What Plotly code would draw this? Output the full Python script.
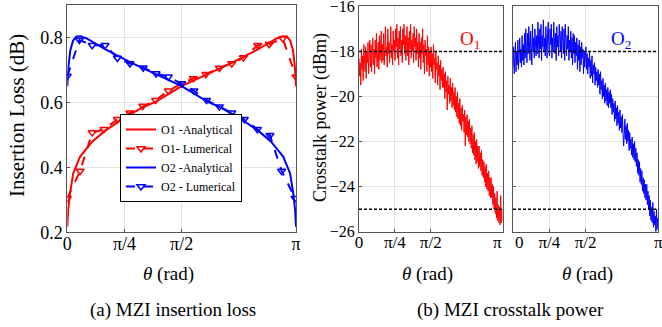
import numpy as np
import plotly.graph_objects as go

PI = np.pi
W, H = 662, 327

# ---------------- data: (a) insertion loss ----------------
ana_f = [0, 0.004, 0.012, 0.026, 0.056, 0.109, 0.16, 0.25, 0.33, 0.386, 0.5,
         0.606, 0.719, 0.833, 0.915, 0.942, 0.96, 0.975, 0.987, 0.995, 1.0]
o1_ana = [0.217, 0.27, 0.32, 0.382, 0.433, 0.479, 0.51, 0.553, 0.585, 0.602, 0.65,
          0.684, 0.722, 0.763, 0.797, 0.804, 0.803, 0.79, 0.76, 0.71, 0.65]
o2_ana_f = [0, 0.005, 0.013, 0.025, 0.04, 0.058, 0.085, 0.167, 0.281, 0.394, 0.5,
            0.614, 0.67, 0.75, 0.84, 0.891, 0.944, 0.974, 0.988, 0.996, 1.0]
o2_ana = [0.65, 0.71, 0.76, 0.79, 0.803, 0.804, 0.797, 0.763, 0.722, 0.684, 0.65,
          0.602, 0.585, 0.553, 0.51, 0.479, 0.433, 0.382, 0.32, 0.27, 0.217]

o1_lum_f = [0, 0.056, 0.109, 0.16, 0.219, 0.274, 0.33, 0.386, 0.442, 0.5, 0.551,
            0.606, 0.665, 0.719, 0.77, 0.833, 0.883, 0.942, 1.0]
o1_lum = [0.305, 0.389, 0.507, 0.517, 0.548, 0.568, 0.589, 0.607, 0.636, 0.658, 0.674,
          0.687, 0.706, 0.72, 0.738, 0.776, 0.779, 0.797, 0.679]
o2_lum_f = [0, 0.053, 0.109, 0.165, 0.219, 0.274, 0.332, 0.388, 0.442, 0.5, 0.554,
            0.609, 0.665, 0.719, 0.774, 0.831, 0.886, 0.937, 0.996]
o2_lum = [0.681, 0.792, 0.776, 0.776, 0.737, 0.72, 0.707, 0.689, 0.679, 0.658, 0.636,
          0.607, 0.587, 0.568, 0.548, 0.517, 0.499, 0.389, 0.305]

# ---------------- data: (b) crosstalk power (dBm) ----------------
o1_xt = [
    -18.3, -19.1, -18.5, -19.5, -17.9, -18.8, -18.2, -19.3, -17.7, -18.6, -18.9, -17.8, -19.2, -18.0, -18.5, -17.6, -19.0, -18.1, -17.5, -18.7,
    -17.7, -18.9, -18.0, -17.4, -18.6, -17.9, -19.0, -17.5, -18.3, -17.2, -18.7, -18.0, -17.6, -18.8, -17.3, -18.4, -17.9, -17.1, -18.5, -17.7,
    -18.4, -17.2, -18.6, -17.5, -16.9, -18.2, -17.8, -18.7, -17.0, -18.1, -17.6, -18.5, -17.3, -16.9, -18.3, -17.7, -18.6, -17.1, -18.0, -17.5,
    -18.4, -17.0, -17.8, -16.8, -18.3, -17.4, -18.6, -17.1, -17.9, -16.9, -18.2, -17.5, -18.5, -17.0, -17.7, -16.8, -18.1, -17.3, -18.4, -17.6,
    -16.9, -18.2, -17.4, -18.6, -17.1, -17.9, -16.8, -18.3, -17.5, -18.0, -17.2, -18.5, -16.9, -17.8, -17.4, -18.4, -17.0, -18.1, -17.6, -18.7,
    -17.2, -18.3, -17.6, -18.8, -17.4, -18.1, -17.0, -18.5, -17.7, -19.0, -17.5, -18.2, -17.9, -18.9, -17.3, -18.6, -17.8, -19.1, -18.0, -18.7,
    -17.8, -18.9, -18.1, -19.2, -17.7, -18.6, -18.3, -19.4, -18.0, -18.8, -18.5, -19.5, -18.2, -19.1, -18.6, -19.7, -18.4, -19.3, -18.8, -19.6,
    -18.7, -19.6, -19.0, -20.1, -18.9, -19.8, -19.3, -20.6, -19.1, -19.9, -19.5, -20.3, -19.2, -20.2, -19.6, -20.5, -19.4, -20.4, -19.8, -20.6,
    -19.6, -20.7, -20.0, -20.9, -19.8, -21.0, -20.3, -21.2, -20.1, -21.3, -20.5, -21.5, -20.4, -21.1, -20.8, -21.6, -20.6, -22.2, -20.9, -21.7,
    -20.8, -21.8, -21.1, -22.0, -21.0, -22.1, -21.4, -22.3, -21.3, -22.5, -21.7, -22.6, -21.6, -22.8, -22.0, -23.0, -21.9, -22.9, -22.2, -23.2,
    -22.2, -23.1, -22.5, -23.3, -22.4, -23.5, -22.8, -23.6, -22.9, -23.8, -23.1, -24.0, -23.0, -24.1, -23.4, -24.2, -23.3, -24.4, -23.6, -24.5,
    -23.6, -24.5, -23.9, -24.8, -24.0, -25.0, -24.3, -25.2, -24.5, -25.4, -24.2, -25.5, -24.8, -25.6, -24.9, -25.7, -24.4, -25.6, -25.0, -25.5,
]
o2_xt = [
    -18.7, -17.8, -19.0, -18.2, -17.6, -18.9, -18.0, -18.6, -17.5, -18.8, -18.1, -17.4, -18.5, -17.9, -18.7, -17.3, -18.4, -17.7, -18.6, -17.2,
    -18.3, -17.0, -17.9, -18.5, -17.2, -18.1, -16.9, -17.8, -18.4, -17.1, -17.7, -18.6, -16.8, -18.0, -17.4, -18.3, -17.0, -17.9, -18.2, -17.3,
    -18.1, -16.7, -17.6, -18.3, -17.0, -17.9, -16.8, -18.4, -17.3, -17.8, -16.6, -18.0, -17.4, -18.2, -16.9, -17.7, -18.3, -17.1, -16.7, -17.9,
    -18.2, -17.0, -17.7, -16.8, -18.3, -17.4, -18.0, -16.7, -17.6, -18.1, -17.2, -18.4, -16.9, -17.8, -17.3, -18.2, -16.8, -17.5, -18.0, -17.1,
    -18.3, -16.9, -17.7, -18.1, -17.0, -18.4, -16.8, -17.6, -18.2, -17.3, -17.9, -16.9, -18.4, -17.5, -18.0, -17.1, -18.3, -17.4, -18.6, -17.2,
    -18.1, -17.3, -18.5, -17.6, -18.2, -17.4, -18.8, -17.7, -18.4, -17.5, -18.9, -17.8, -18.6, -17.6, -18.3, -17.9, -19.0, -18.0, -18.7, -18.2,
    -17.8, -18.8, -18.1, -19.0, -18.3, -18.7, -18.0, -19.2, -18.4, -19.1, -18.2, -19.4, -18.6, -19.0, -18.5, -19.5, -18.7, -19.3, -18.9, -19.6,
    -18.8, -19.5, -19.0, -19.9, -18.9, -19.7, -19.3, -20.1, -19.2, -20.0, -19.5, -20.3, -19.4, -20.2, -19.7, -20.4, -19.6, -20.5, -19.8, -20.3,
    -19.7, -20.5, -19.9, -20.8, -20.1, -20.7, -20.3, -21.1, -20.2, -21.0, -20.5, -21.3, -20.4, -21.2, -20.7, -21.5, -20.6, -21.4, -20.9, -21.6,
    -20.8, -21.6, -22.2, -21.7, -21.0, -21.9, -21.3, -22.1, -21.2, -22.0, -21.5, -22.4, -21.6, -22.3, -21.9, -22.6, -21.8, -22.7, -22.1, -22.8,
    -22.0, -22.9, -22.3, -23.1, -22.5, -23.4, -22.8, -23.5, -22.9, -23.8, -23.2, -23.9, -23.3, -24.2, -23.6, -24.3, -23.7, -24.5, -23.9, -24.6,
    -23.9, -24.8, -24.2, -25.0, -24.4, -25.3, -24.6, -25.5, -24.9, -25.6, -24.7, -25.8, -25.1, -25.7, -25.3, -26.0, -25.0, -25.9, -25.4, -25.8,
]
xt_theta = np.linspace(0, PI, len(o1_xt))
thresholds = [-18, -25]

tick_vals = [0, PI / 4, PI / 2, PI]
tick_text = ["0", "π/4", "π/2", "π"]
tick_text2 = ["0", "π/4", "π/2", ""]
tick_text3 = ["", "π/4", "π/2", "π"]

RED, BLUE = "#ff0000", "#0000ff"
FONT = "Times New Roman, Liberation Serif, serif"

def th(fr):
    return [v * PI for v in fr]

fig = go.Figure()
fig.add_trace(go.Scatter(x=th(ana_f), y=o1_ana, mode="lines", name="O1 -Analytical",
                         line=dict(color=RED, width=2), xaxis="x", yaxis="y"))
fig.add_trace(go.Scatter(x=th(o1_lum_f), y=o1_lum, mode="lines+markers", name="O1- Lumerical",
                         line=dict(color=RED, width=2, dash="dash"),
                         marker=dict(symbol="triangle-down-open", size=7, line=dict(width=1.5)),
                         xaxis="x", yaxis="y"))
fig.add_trace(go.Scatter(x=th(o2_ana_f), y=o2_ana, mode="lines", name="O2 -Analytical",
                         line=dict(color=BLUE, width=2), xaxis="x", yaxis="y"))
fig.add_trace(go.Scatter(x=th(o2_lum_f), y=o2_lum, mode="lines+markers", name="O2 - Lumerical",
                         line=dict(color=BLUE, width=2, dash="dash"),
                         marker=dict(symbol="triangle-down-open", size=7, line=dict(width=1.5)),
                         xaxis="x", yaxis="y"))

fig.add_trace(go.Scatter(x=xt_theta, y=o1_xt, mode="lines", showlegend=False,
                         line=dict(color=RED, width=1), xaxis="x2", yaxis="y2"))
fig.add_trace(go.Scatter(x=xt_theta, y=o2_xt, mode="lines", showlegend=False,
                         line=dict(color=BLUE, width=1), xaxis="x3", yaxis="y3"))

for ax in ["x2", "x3"]:
    for t in thresholds:
        fig.add_shape(type="line", xref=f"{ax} domain", yref=ax.replace("x", "y"),
                      x0=0, x1=1, y0=t, y1=t,
                      line=dict(color="black", width=1.5, dash="3px,2px"))

def px_x(p):
    return p / W

def px_y(p):
    return 1 - p / H

GRID = "#e3e3e3"
LINE = "#555555"
common_x = dict(range=[0, PI], tickvals=tick_vals, showgrid=True, automargin=False,
                gridcolor=GRID, showline=True, linecolor=LINE, mirror=True, zeroline=False,
                ticks="inside", ticklen=3, tickcolor=LINE, ticklabeloverflow="allow",
                ticklabelstandoff=-5)
common_y = dict(showgrid=True, gridcolor=GRID, showline=True, linecolor=LINE, mirror=True,
                automargin=False, zeroline=False, ticks="inside", ticklen=3, tickcolor=LINE,
                ticklabeloverflow="allow")

fig.update_layout(
    width=W, height=H, margin=dict(l=0, r=0, t=0, b=0),
    paper_bgcolor="white", plot_bgcolor="white",
    font=dict(family=FONT, color="black"),
    xaxis=dict(domain=[px_x(67.3), px_x(296)], anchor="y", ticktext=tick_text,
               tickfont=dict(size=18, family=FONT), **common_x),
    yaxis=dict(domain=[px_y(232.3), px_y(5)], anchor="x", range=[0.2, 0.9],
               tickvals=[0.2, 0.4, 0.6, 0.8], ticktext=["0.2", "0.4", "0.6", "0.8"],
               tickfont=dict(size=18, family=FONT), **common_y),
    xaxis2=dict(domain=[px_x(359), px_x(502.5)], anchor="y2", ticktext=tick_text2,
                tickfont=dict(size=17, family=FONT), **common_x),
    yaxis2=dict(domain=[px_y(231.7), px_y(6.3)], anchor="x2", range=[-26, -16], dtick=2,
                tickfont=dict(size=16, family=FONT), **common_y),
    xaxis3=dict(domain=[px_x(513), px_x(658.3)], anchor="y3", ticktext=tick_text3,
                tickfont=dict(size=17, family=FONT), **common_x),
    yaxis3=dict(domain=[px_y(231.7), px_y(6.3)], anchor="x3", range=[-26, -16], dtick=2,
                showticklabels=False, **common_y),
    legend=dict(x=px_x(120), y=px_y(114), xanchor="left", yanchor="top",
                bgcolor="white", bordercolor="black", borderwidth=1,
                font=dict(size=12, family=FONT), tracegroupgap=0,
                itemwidth=30),
)

ann = [
    dict(x=px_x(17), y=px_y(116), text="Insertion Loss (dB)", textangle=-90, size=21),
    dict(x=px_x(320), y=px_y(118), text="Crosstalk power (dBm)", textangle=-90, size=18),
    dict(x=px_x(168), y=px_y(274), text="<i>θ</i> (rad)", textangle=0, size=19),
    dict(x=px_x(428), y=px_y(274), text="<i>θ</i> (rad)", textangle=0, size=19),
    dict(x=px_x(587), y=px_y(274), text="<i>θ</i> (rad)", textangle=0, size=19),
    dict(x=px_x(173), y=px_y(310), text="(a) MZI insertion loss", textangle=0, size=19),
    dict(x=px_x(510), y=px_y(310), text="(b) MZI crosstalk power", textangle=0, size=19),
    dict(x=px_x(497.5), y=px_y(242), text="π", textangle=0, size=17),
    dict(x=px_x(519), y=px_y(242), text="0", textangle=0, size=17),
]
for a in ann:
    fig.add_annotation(x=a["x"], y=a["y"], xref="paper", yref="paper", text=a["text"],
                       textangle=a["textangle"], showarrow=False, xanchor="center", yanchor="middle",
                       font=dict(size=a["size"], family=FONT, color="black"))
fig.add_annotation(x=px_x(482), y=px_y(26), xref="paper", yref="paper", text="O<sub>1</sub>",
                   showarrow=False, font=dict(size=19, family=FONT, color=RED))
fig.add_annotation(x=px_x(633), y=px_y(26), xref="paper", yref="paper", text="O<sub>2</sub>",
                   showarrow=False, font=dict(size=19, family=FONT, color=BLUE))

fig.write_html("out.html")
